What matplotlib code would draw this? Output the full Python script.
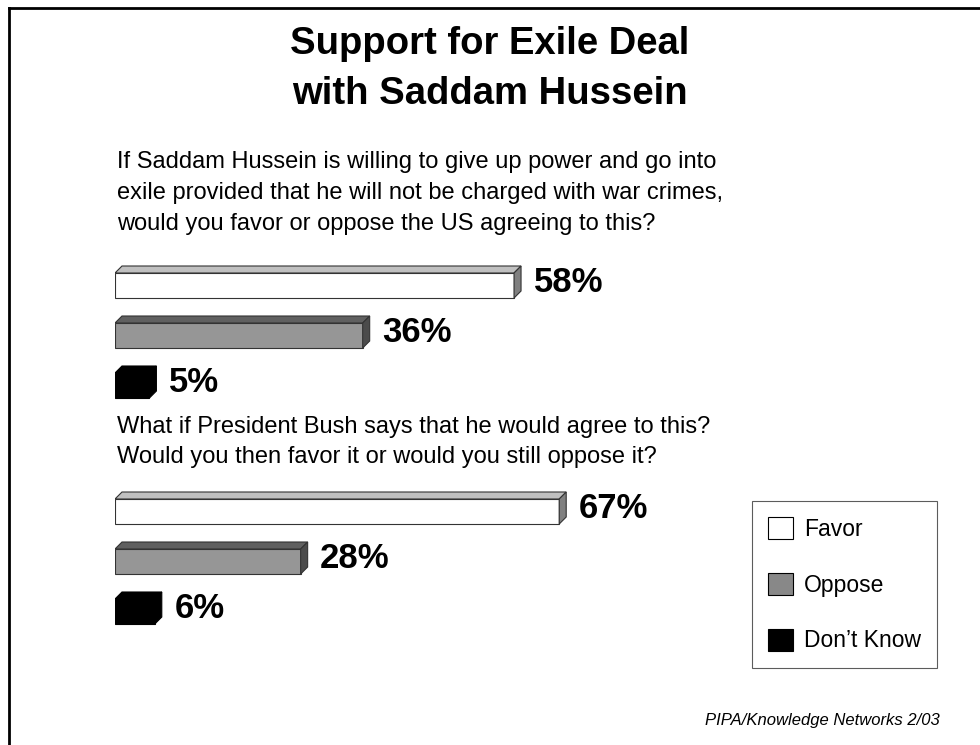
import numpy as np
import matplotlib
matplotlib.use("Agg")
import matplotlib.pyplot as plt
from matplotlib.patches import Polygon, Patch
from matplotlib.lines import Line2D

plt.rcParams['font.family'] = ['Liberation Sans', 'DejaVu Sans']

# data
answers = ['Favor', 'Oppose', "Don\u2019t Know"]
q1_values = [58, 36, 5]
q2_values = [67, 28, 6]

title_lines = ["Support for Exile Deal", "with Saddam Hussein"]
q1_lines = ["If Saddam Hussein is willing to give up power and go into",
            "exile provided that he will not be charged with war crimes,",
            "would you favor or oppose the US agreeing to this?"]
q2_lines = ["What if President Bush says that he would agree to this?",
            "Would you then favor it or would you still oppose it?"]
source = "PIPA/Knowledge Networks 2/03"

front_cols = ['#ffffff', '#969696', '#000000']
top_cols = ['#c0c0c0', '#606060', '#000000']
side_cols = ['#808080', '#4b4b4b', '#000000']
edge_cols = ['#333333', '#333333', '#000000']
legend_cols = ['#ffffff', '#888888', '#000000']

W, H = 980, 745
fig = plt.figure(figsize=(W / 100, H / 100), dpi=100)


def px(x, y):
    return x / W, 1 - y / H


# frame lines (top and left only)
fig.add_artist(Line2D([8.5 / W, 1], [1 - 7.5 / H] * 2, color='black', lw=2))
fig.add_artist(Line2D([8.5 / W] * 2, [0, 1 - 7.5 / H], color='black', lw=2))

for k, line in enumerate(title_lines):
    fig.text(*px(490, 54 + 50 * k), line, ha='center', va='baseline',
             fontsize=27.5, fontweight='bold')

for k, line in enumerate(q1_lines):
    fig.text(*px(117, 168 + 31 * k), line, ha='left', va='baseline', fontsize=17)
for k, line in enumerate(q2_lines):
    fig.text(*px(117, 433 + 30.5 * k), line, ha='left', va='baseline', fontsize=17)


def bar_panel(top_px, width_px, values):
    ax = fig.add_axes([115 / W, 1 - (top_px + 150) / H, width_px / W, 150 / H])
    ax.set_xlim(0, 100)
    ax.set_ylim(2.5, -0.5)
    ax.axis('off')
    dx = 7 / (width_px / 100)
    dy = 7 / 50
    h = 0.5
    ypos = np.arange(len(values))
    ax.barh(ypos, values, height=h, color=front_cols, edgecolor=edge_cols, linewidth=0.8)
    for i, v in enumerate(values):
        t = i - h / 2
        b = i + h / 2
        ax.add_patch(Polygon([(0, t), (dx, t - dy), (v + dx, t - dy), (v, t)], closed=True,
                             facecolor=top_cols[i], edgecolor=edge_cols[i], lw=0.8))
        ax.add_patch(Polygon([(v, t), (v + dx, t - dy), (v + dx, b - dy), (v, b)], closed=True,
                             facecolor=side_cols[i], edgecolor=edge_cols[i], lw=0.8))
        ax.annotate(f"{v}%", xy=(v + dx, i - dy / 2), xytext=(9, 0),
                    textcoords='offset points', ha='left', va='center',
                    fontsize=25, fontweight='bold')
    return ax


bar_panel(260.5, 688, q1_values)
bar_panel(486.5, 663, q2_values)

handles = [Patch(facecolor=c, edgecolor='black', linewidth=0.8) for c in legend_cols]
leg = fig.legend(handles, answers, loc='upper left', bbox_to_anchor=px(752, 501),
                 fontsize=16.5, frameon=True, fancybox=False, handlelength=1.09,
                 handleheight=1.09, handletextpad=0.48, labelspacing=1.4,
                 borderpad=0.7, borderaxespad=0)
leg.get_frame().set_edgecolor('#333333')
leg.get_frame().set_linewidth(0.8)

fig.text(*px(940, 721), source, ha='right', va='center', fontsize=12, style='italic')

fig.savefig("out.png", dpi=100)
